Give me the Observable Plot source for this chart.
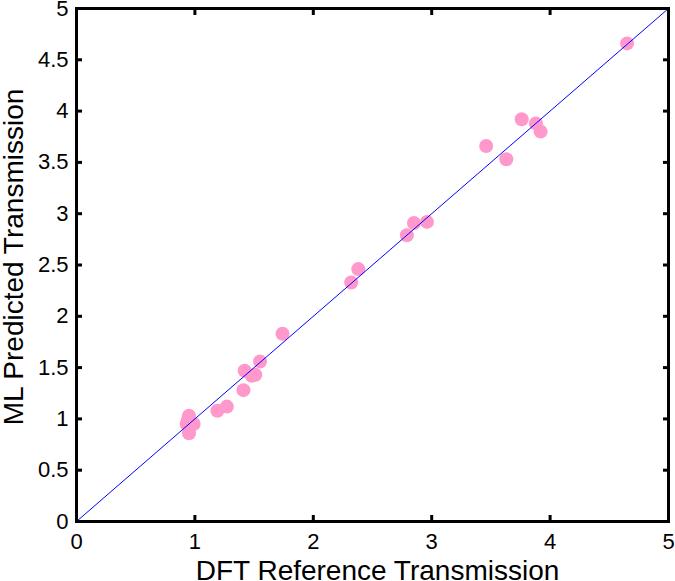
<!DOCTYPE html>
<html>
<head>
<meta charset="utf-8">
<script src="https://cdn.jsdelivr.net/npm/d3@7"></script>
<script src="https://cdn.jsdelivr.net/npm/@observablehq/plot@0.6"></script>
<style>
  html, body { margin: 0; padding: 0; background: #fff; }
  #chart svg { display: block; }
</style>
</head>
<body>
<div id="chart"></div>
<script>
const dftReference = [4.65, 3.76, 3.88, 3.92, 3.46, 3.63, 2.85, 2.96, 2.79, 2.38, 2.32, 1.74, 1.55, 1.42, 1.48, 1.51, 1.41, 1.19, 1.27, 0.95, 0.94, 0.99, 0.95, 0.95, 0.93];
const mlPredicted  = [4.66, 3.92, 3.88, 3.80, 3.66, 3.53, 2.91, 2.92, 2.79, 2.46, 2.33, 1.83, 1.56, 1.47, 1.42, 1.43, 1.28, 1.08, 1.12, 1.03, 0.99, 0.95, 0.92, 0.86, 0.95];
const xTicks = [0, 1, 2, 3, 4, 5];
const yTicks = [0, 0.5, 1, 1.5, 2, 2.5, 3, 3.5, 4, 4.5, 5];
const identityLine = [0, 5];
const xLabel = "DFT Reference Transmission";
const yLabel = "ML Predicted Transmission";

const points = dftReference.map((x, i) => ({x, y: mlPredicted[i]}));
const diag = identityLine.map(v => ({x: v, y: v}));

const chart = Plot.plot({
  width: 675,
  height: 581,
  marginLeft: 76,
  marginRight: 7,
  marginTop: 8,
  marginBottom: 60,
  style: {fontFamily: "'Liberation Sans', Arial, sans-serif", background: "#fff"},
  x: {domain: [0, 5]},
  y: {domain: [0, 5]},
  marks: [
    Plot.dot(points, {x: "x", y: "y", r: 7, fill: "#ff99cc", stroke: "none"}),
    Plot.line(diag, {x: "x", y: "y", stroke: "#0000ff", strokeWidth: 1}),
    Plot.frame({stroke: "#000", strokeWidth: 3}),
    // tick labels
    Plot.axisX(xTicks, {anchor: "bottom", tickSize: 0, tickPadding: 12, fontSize: 22, label: null, tickFormat: d => String(d), fill: "#000"}),
    Plot.axisY(yTicks, {anchor: "left", tickSize: 0, tickPadding: 8, fontSize: 22, label: null, tickFormat: d => String(d), fill: "#000"}),
    // inward ticks
    Plot.axisX(xTicks, {anchor: "bottom", tickSize: -6, strokeWidth: 3, text: null, label: null}),
    Plot.axisX(xTicks, {anchor: "top", tickSize: -6, strokeWidth: 3, text: null, label: null}),
    Plot.axisY(yTicks, {anchor: "left", tickSize: -6, strokeWidth: 3, text: null, label: null}),
    Plot.axisY(yTicks, {anchor: "right", tickSize: -6, strokeWidth: 3, text: null, label: null}),
    // axis titles
    Plot.text([xLabel], {frameAnchor: "bottom", textAnchor: "middle", lineAnchor: "bottom", dx: 5, dy: 58, fontSize: 28, fill: "#000"}),
    Plot.text([yLabel], {frameAnchor: "left", textAnchor: "middle", lineAnchor: "middle", rotate: -90, dx: -62, dy: -8, fontSize: 28, fill: "#000"})
  ]
});
document.getElementById("chart").appendChild(chart);
</script>
</body>
</html>
